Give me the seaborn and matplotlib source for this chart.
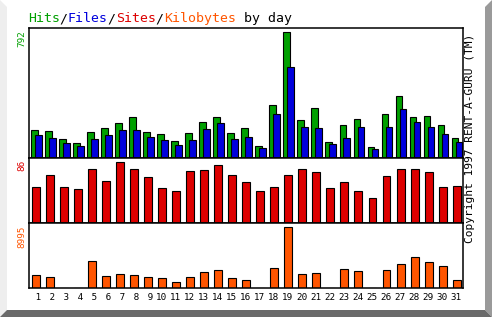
import numpy as np
import pandas as pd
import matplotlib
matplotlib.use("Agg")
import matplotlib.pyplot as plt
from matplotlib.patches import Polygon
import seaborn as sns

# ---- data ----
days = list(range(1, 32))
hits = [175, 168, 120, 93, 162, 187, 219, 256, 162, 149, 105, 156, 225, 256, 156, 187,
        74, 332, 792, 238, 313, 99, 206, 244, 67, 275, 389, 256, 263, 206, 124]
files = [143, 124, 93, 74, 118, 143, 175, 175, 130, 111, 80, 111, 181, 219, 118, 130,
         61, 275, 571, 193, 187, 86, 124, 193, 55, 193, 307, 225, 193, 149, 99]
sites = [51, 68, 51, 48, 77, 60, 86, 77, 65, 49, 45, 73, 75, 82, 68, 58,
         46, 51, 68, 76, 72, 49, 58, 46, 36, 66, 76, 76, 72, 51, 53]
kbytes = [1880, 1585, 0, 0, 3950, 1730, 2030, 1880, 1585, 1435, 845, 1585, 2325, 2620, 1435, 1140,
          0, 2920, 8995, 2030, 2180, 0, 2770, 2475, 0, 2620, 3510, 4550, 3805, 3215, 1140]
title_parts = ["Hits", "/", "Files", "/", "Sites", "/", "Kilobytes", " by day"]
copyright_text = "Copyright 1997 RENT-A-GURU (TM)"

df = pd.DataFrame({"day": days, "hits": hits, "files": files, "sites": sites, "kbytes": kbytes})

GREEN = "#00a000"
BLUE = "#0000dd"
RED = "#dd0000"
ORANGE = "#ff5500"
title_colors = [GREEN, "black", BLUE, "black", RED, "black", ORANGE, "black"]

sns.set_style("white")
plt.rcParams["font.family"] = ["DejaVu Sans Mono", "DejaVu Sans"]

W, H = 492, 317
fig = plt.figure(figsize=(W / 100, H / 100), dpi=100)
fig.patch.set_facecolor("white")

def px(x, y):
    return (x / W, 1 - y / H)

# frame / shadow
fig.add_artist(Polygon([px(0, 0), px(7, 7), px(7, 310), px(0, 317)], closed=True,
                       facecolor="#eeeeee", edgecolor="none", transform=fig.transFigure))
fig.add_artist(Polygon([px(492, 0), px(485, 7), px(485, 310), px(492, 317)], closed=True,
                       facecolor="#9a9a9a", edgecolor="none", transform=fig.transFigure))
fig.add_artist(Polygon([px(0, 317), px(7, 310), px(485, 310), px(492, 317)], closed=True,
                       facecolor="#6a6a6a", edgecolor="none", transform=fig.transFigure))

left, right = 28.7, 463.0
def add_ax(top, bottom):
    return fig.add_axes([left / W, 1 - bottom / H, (right - left) / W, (bottom - top) / H])

ax1 = add_ax(28, 158)
ax2 = add_ax(158, 223)
ax3 = add_ax(223, 288)

lw = 0.8
kw = dict(native_scale=True, errorbar=None, saturation=1, edgecolor="black", linewidth=lw)

sns.barplot(x=df["day"] - 0.085, y=df["hits"], width=0.46, color=GREEN, ax=ax1, **kw)
sns.barplot(x=df["day"] + 0.20, y=df["files"], width=0.46, color=BLUE, ax=ax1, **kw)
sns.barplot(x=df["day"] + 0.04, y=df["sites"], width=0.57, color=RED, ax=ax2, **kw)
sns.barplot(x=df["day"] + 0.04, y=df["kbytes"], width=0.57, color=ORANGE, ax=ax3, **kw)

ax1.set_ylim(0, max(hits) * 130 / 125.7)
ax2.set_ylim(0, max(sites) * 65 / 60.7)
ax3.set_ylim(0, max(kbytes) * 65 / 60.7)

for ax in (ax1, ax2, ax3):
    ax.set_xlim(0.5, 31.5)
    ax.set_facecolor("white")
    ax.set_xlabel("")
    ax.set_ylabel("")
    ax.set_yticks([])
    for s in ax.spines.values():
        s.set_visible(True)
        s.set_color("black")
        s.set_linewidth(1.1)
    ax.set_zorder(2)

ax1.set_xticks([])
ax2.set_xticks([])
ax3.set_xticks(days)
ax3.set_xticklabels([f"{d:2d}" for d in days], fontsize=6.7)
ax3.tick_params(axis="x", length=0, pad=3.6, colors="black")

# y max labels
for top, val, col in [(28, max(hits), GREEN), (158, max(sites), RED), (223, max(kbytes), ORANGE)]:
    x, y = px(22, top + 2)
    fig.text(x, y, str(val), rotation=90, ha="center", va="top", color=col, fontsize=6.7)

# copyright
x, y = px(470, 138)
fig.text(x, y, copyright_text, rotation=90, ha="center", va="center", color="black", fontsize=8.1)

# title
x, y = px(27.7, 25)
prev = fig.text(x, y, title_parts[0], color=title_colors[0], fontsize=9.5, ha="left", va="bottom")
for t, c in zip(title_parts[1:], title_colors[1:]):
    prev = ax1.annotate(t, xy=(1, 0), xycoords=prev, color=c, fontsize=9.5,
                        ha="left", va="bottom", annotation_clip=False)

fig.savefig("out.png", dpi=100)
